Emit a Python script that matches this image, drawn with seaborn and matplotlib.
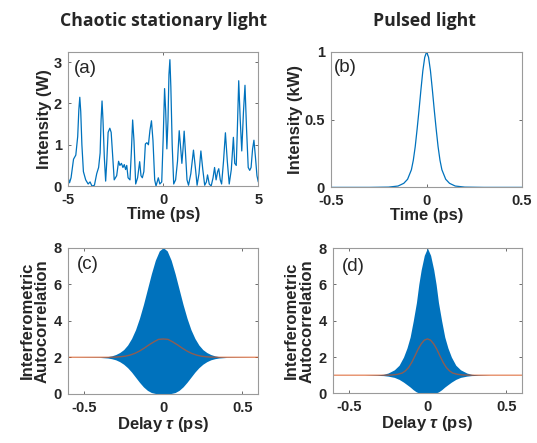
import numpy as np
import pandas as pd
import matplotlib.pyplot as plt
import seaborn as sns

sns.set_style('ticks')
plt.rcParams['font.family'] = ['Liberation Sans', 'DejaVu Sans']
plt.rcParams['mathtext.fontset'] = 'custom'
plt.rcParams['mathtext.it'] = 'Liberation Sans:italic:bold'

blue = '#0072BD'
red = '#D95319'

# (a) chaotic stationary light
chaos_t = [-5.00, -4.93, -4.85, -4.72, -4.60, -4.50, -4.44, -4.39, -4.34, -4.28, -4.20, -4.08,
           -3.95, -3.85, -3.75, -3.62, -3.50, -3.40, -3.32, -3.27, -3.22, -3.17, -3.10, -3.03,
           -2.97, -2.90, -2.81, -2.74, -2.67, -2.58, -2.45, -2.35, -2.28, -2.20, -2.12, -2.05,
           -1.98, -1.92, -1.85, -1.75, -1.68, -1.61, -1.54, -1.45, -1.35, -1.24, -1.17, -1.10,
           -1.02, -0.94, -0.86, -0.78, -0.70, -0.62, -0.54, -0.45, -0.38, -0.26, -0.18, -0.08,
           0.00, 0.07, 0.13, 0.19, 0.25, 0.30, 0.35, 0.40, 0.47, 0.55, 0.65, 0.75,
           0.84, 0.92, 0.98, 1.04, 1.10, 1.17, 1.25, 1.33, 1.45, 1.59, 1.70, 1.78,
           1.88, 1.98, 2.08, 2.18, 2.27, 2.33, 2.42, 2.52, 2.62, 2.70, 2.78, 2.86,
           2.92, 3.00, 3.07, 3.17, 3.27, 3.37, 3.47, 3.58, 3.69, 3.76, 3.84, 3.90,
           3.97, 4.05, 4.13, 4.22, 4.30, 4.38, 4.47, 4.55, 4.62, 4.70, 4.77, 4.85,
           4.93, 5.00]
chaos_I = [0.20, 0.08, 0.20, 0.65, 0.75, 1.20, 1.85, 2.15, 1.80, 1.00, 0.35, 0.15,
           0.05, 0.10, 0.00, 0.02, 0.30, 0.45, 0.80, 1.60, 2.06, 1.60, 0.70, 0.12,
           0.60, 1.30, 1.40, 1.30, 0.80, 0.15, 0.25, 0.60, 0.50, 0.55, 0.45, 0.52,
           0.40, 0.50, 0.20, 0.15, 0.80, 1.60, 1.10, 0.05, 0.20, 0.59, 0.25, 0.20,
           0.35, 1.02, 1.05, 1.00, 1.35, 1.58, 1.10, 0.15, 0.00, 0.20, 0.05, 0.10,
           1.20, 2.36, 1.80, 0.90, 1.60, 2.70, 3.06, 2.40, 1.00, 0.05, 0.15, 0.60,
           1.34, 0.90, 0.55, 0.90, 1.33, 0.80, 0.15, 0.02, 0.30, 0.87, 0.40, 0.02,
           0.30, 0.85, 0.40, 0.02, 0.10, 0.27, 0.05, 0.00, 0.20, 0.45, 0.15, 0.35,
           0.42, 0.15, 0.05, 0.60, 1.29, 0.60, 0.05, 0.40, 1.18, 0.55, 0.50, 1.40,
           2.55, 1.60, 0.85, 1.80, 2.44, 1.40, 0.45, 0.38, 0.45, 0.90, 1.11, 0.70,
           0.25, 0.10]

# (b) pulse, half profile (t >= 0), symmetric
pulse_t_half = [0.00, 0.01, 0.02, 0.03, 0.04, 0.05, 0.06, 0.07, 0.08, 0.10, 0.12, 0.15, 0.20, 0.30, 0.50]
pulse_I_half = [1.00, 0.96, 0.86, 0.72, 0.57, 0.43, 0.30, 0.20, 0.13, 0.06, 0.03, 0.01, 0.002, 0.0, 0.0]

# (c) chaotic interferometric autocorrelation envelopes, half profile
c_tau_half = [0.0, 0.025, 0.05, 0.075, 0.10, 0.125, 0.15, 0.175, 0.20, 0.225, 0.25, 0.275, 0.30, 0.325, 0.35, 0.40, 0.60]
c_upper_half = [8.0, 7.82, 7.31, 6.57, 5.73, 4.89, 4.14, 3.51, 3.03, 2.67, 2.42, 2.26, 2.15, 2.08, 2.04, 2.01, 2.0]
c_lower_half = [0.0, 0.0, 0.02, 0.07, 0.19, 0.38, 0.63, 0.91, 1.19, 1.43, 1.62, 1.76, 1.86, 1.92, 1.96, 1.99, 2.0]
c_red_tau_half = [0.0, 0.03, 0.06, 0.09, 0.12, 0.15, 0.18, 0.21, 0.24, 0.27, 0.30, 0.35, 0.60]
c_red_half = [3.0, 2.98, 2.84, 2.68, 2.50, 2.34, 2.21, 2.12, 2.06, 2.03, 2.01, 2.0, 2.0]

# (d) pulsed interferometric autocorrelation, half profile
d_tau_half = [0.0, 0.02, 0.04, 0.055, 0.07, 0.09, 0.11, 0.13, 0.152, 0.18, 0.21, 0.25, 0.28, 0.32, 0.40, 0.60]
d_upper_half = [8.0, 7.6, 6.8, 6.0, 5.0, 4.0, 3.1, 2.5, 2.0, 1.55, 1.3, 1.12, 1.05, 1.02, 1.0, 1.0]
d_lower_half = [0.0, 0.0, 0.01, 0.03, 0.08, 0.2, 0.35, 0.48, 0.62, 0.77, 0.88, 0.95, 0.98, 0.99, 1.0, 1.0]
d_red_tau_half = [0.0, 0.02, 0.04, 0.06, 0.08, 0.10, 0.12, 0.14, 0.16, 0.19, 0.23, 0.30, 0.60]
d_red_half = [3.0, 2.93, 2.72, 2.42, 2.05, 1.70, 1.42, 1.24, 1.12, 1.05, 1.01, 1.0, 1.0]


def mirror(t, v):
    t = np.asarray(t, float)
    v = np.asarray(v, float)
    return np.concatenate([-t[:0:-1], t]), np.concatenate([v[:0:-1], v])


pulse = pd.DataFrame(dict(zip(['t', 'I'], mirror(pulse_t_half, pulse_I_half))))
chaos = pd.DataFrame({'t': chaos_t, 'I': chaos_I})

fig = plt.figure(figsize=(5.37, 4.43), dpi=100)
ax_a = fig.add_axes([0.127, 0.580, 0.354, 0.303])
ax_b = fig.add_axes([0.617, 0.577, 0.355, 0.306])
ax_c = fig.add_axes([0.127, 0.111, 0.354, 0.330])
ax_d = fig.add_axes([0.620, 0.112, 0.352, 0.328])

sns.lineplot(data=chaos, x='t', y='I', ax=ax_a, color=blue, lw=0.9)
sns.lineplot(data=pulse, x='t', y='I', ax=ax_b, color=blue, lw=0.9)

for ax, th, up, lo, tr, rv in [
        (ax_c, c_tau_half, c_upper_half, c_lower_half, c_red_tau_half, c_red_half),
        (ax_d, d_tau_half, d_upper_half, d_lower_half, d_red_tau_half, d_red_half)]:
    tt, uu = mirror(th, up)
    _, ll = mirror(th, lo)
    ax.fill_between(tt, ll, uu, color=blue, lw=0)
    rt, rr = mirror(tr, rv)
    sns.lineplot(x=rt, y=rr, ax=ax, color=red, lw=1.0, alpha=0.65)

ax_a.set(xlim=(-5, 5), ylim=(0, 3.25), xticks=[-5, 0, 5], yticks=[0, 1, 2, 3])
ax_b.set(xlim=(-0.5, 0.5), ylim=(0, 1), xticks=[-0.5, 0, 0.5], yticks=[0, 0.5, 1])
ax_b.set_xticklabels(['-0.5', '0', '0.5'])
ax_b.set_yticklabels(['0', '0.5', '1'])
for ax in (ax_c, ax_d):
    ax.set(xlim=(-0.6, 0.6), ylim=(0, 8), xticks=[-0.5, 0, 0.5], yticks=[0, 2, 4, 6, 8])
    ax.set_xticklabels(['-0.5', '0', '0.5'])
ax_a.set_xticklabels(['-5', '0', '5'])

lab = dict(fontsize=12, fontweight='bold')
ax_a.set_xlabel('Time (ps)', labelpad=0, **lab)
ax_a.set_ylabel('Intensity (W)', labelpad=1, **lab)
ax_b.set_xlabel('Time (ps)', labelpad=0, **lab)
ax_b.set_ylabel('Intensity (kW)', labelpad=1, **lab)
for ax in (ax_c, ax_d):
    ax.set_xlabel(r'Delay $\tau$ (ps)', labelpad=0, **lab)
    ax.set_ylabel('Interferometric\nAutocorrelation', labelpad=3, linespacing=1.0, **lab)

for ax, s, x, y in [(ax_a, '(a)', 0.03, 0.94), (ax_b, '(b)', 0.015, 0.95),
                    (ax_c, '(c)', 0.045, 0.94), (ax_d, '(d)', 0.045, 0.93)]:
    ax.text(x, y, s, transform=ax.transAxes, ha='left', va='top', fontsize=13.5)

for ax in (ax_a, ax_b, ax_c, ax_d):
    ax.tick_params(direction='in', length=2.5, width=0.6, top=True, right=True,
                   labelsize=10.5, pad=3.5, color='#555555')
    ax.tick_params(axis='x', pad=5)
    ax.tick_params(axis='y', pad=4.5)
    for lbl in ax.get_xticklabels() + ax.get_yticklabels():
        lbl.set_fontweight('bold')
    for sp in ax.spines.values():
        sp.set_visible(True)
        sp.set_color('#9a9a9a')
        sp.set_linewidth(0.8)

fig.text(0.305, 0.953, 'Chaotic stationary light', ha='center', va='center',
         fontsize=12.7, fontweight='bold', family=['Open Sans', 'DejaVu Sans'])
fig.text(0.79, 0.953, 'Pulsed light', ha='center', va='center',
         fontsize=12.7, fontweight='bold', family=['Open Sans', 'DejaVu Sans'])

fig.savefig('out.png', dpi=100)
